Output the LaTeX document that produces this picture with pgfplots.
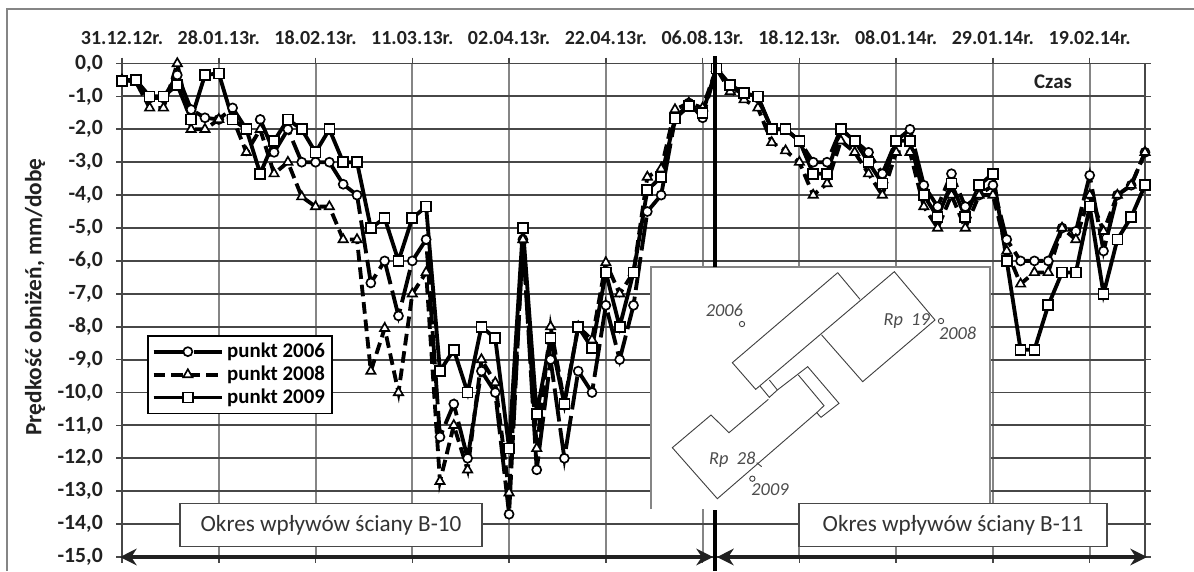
\documentclass[border=0pt]{standalone}
\usepackage{fontspec}
\setmainfont{Carlito}
\usepackage{pgfplots}
\pgfplotsset{compat=1.18}
\usetikzlibrary{arrows.meta}

\definecolor{griddark}{gray}{0.28}
\definecolor{gridmid}{gray}{0.52}
\definecolor{ink}{gray}{0.13}

% n, predkosc [mm/dobe] for each measuring point
\pgfplotstableread{
n v
0 -0.5
1 -0.5
2 -1.05
3 -1.05
4 -0.35
5 -1.4
6 -1.65
7 -1.7
8 -1.35
9 -2.0
10 -1.7
11 -2.7
12 -2.0
13 -3.0
14 -3.0
15 -3.0
16 -3.67
17 -4.0
18 -6.67
19 -6.0
20 -7.67
21 -6.0
22 -5.35
23 -11.35
24 -10.35
25 -12.0
26 -9.35
27 -10.0
28 -13.7
29 -5.35
30 -12.35
31 -9.0
32 -12.0
33 -9.35
34 -10.0
35 -7.35
36 -9.0
37 -7.35
38 -4.5
39 -4.0
40 -1.7
41 -1.2
42 -1.65
43 -0.15
44 -0.7
45 -0.95
46 -1.05
47 -2.0
48 -2.0
49 -2.35
50 -3.0
51 -3.0
52 -2.0
53 -2.35
54 -2.7
55 -3.35
56 -2.35
57 -2.0
58 -3.7
59 -4.35
60 -3.35
61 -4.35
62 -4.0
63 -3.7
64 -5.35
65 -6.0
66 -6.0
67 -6.0
68 -5.0
69 -5.1
70 -3.4
71 -5.7
72 -4.0
73 -3.7
74 -2.7
}\punktA
\pgfplotstableread{
n v
0 -0.5
1 -0.55
2 -1.35
3 -1.35
4 0.0
5 -2.0
6 -2.0
7 -1.7
8 -1.65
9 -2.7
10 -2.0
11 -3.35
12 -3.0
13 -4.05
14 -4.35
15 -4.35
16 -5.35
17 -5.35
18 -9.35
19 -8.05
20 -10.0
21 -7.0
22 -6.35
23 -12.7
24 -11.0
25 -12.35
26 -9.0
27 -9.7
28 -13.05
29 -5.35
30 -11.7
31 -8.0
32 -10.3
33 -8.0
34 -8.4
35 -6.05
36 -7.0
37 -6.35
38 -3.45
39 -3.2
40 -1.4
41 -1.2
42 -1.35
43 -0.15
44 -0.85
45 -1.1
46 -1.35
47 -2.4
48 -2.65
49 -3.0
50 -4.0
51 -3.65
52 -2.35
53 -2.7
54 -3.35
55 -4.0
56 -2.7
57 -2.7
58 -4.35
59 -5.0
60 -4.0
61 -5.0
62 -4.0
63 -4.0
64 -5.7
65 -6.7
66 -6.35
67 -6.35
68 -5.0
69 -5.35
70 -4.0
71 -5.1
72 -4.0
73 -3.7
74 -2.7
}\punktB
\pgfplotstableread{
n v
0 -0.53
1 -0.5
2 -1.0
3 -1.0
4 -0.65
5 -1.7
6 -0.35
7 -0.3
8 -1.7
9 -2.0
10 -3.35
11 -2.35
12 -1.7
13 -2.0
14 -2.7
15 -2.0
16 -3.0
17 -3.0
18 -5.0
19 -4.7
20 -6.0
21 -4.7
22 -4.35
23 -9.35
24 -8.7
25 -10.0
26 -8.0
27 -8.35
28 -11.7
29 -5.0
30 -10.65
31 -8.35
32 -10.35
33 -8.0
34 -8.65
35 -6.35
36 -8.0
37 -6.35
38 -3.85
39 -3.45
40 -1.67
41 -1.3
42 -1.5
43 -0.15
44 -0.65
45 -0.9
46 -1.0
47 -2.0
48 -2.0
49 -2.35
50 -3.35
51 -3.35
52 -2.0
53 -2.35
54 -3.0
55 -3.65
56 -2.35
57 -2.35
58 -4.0
59 -4.67
60 -3.65
61 -4.67
62 -3.7
63 -3.35
64 -6.0
65 -8.7
66 -8.7
67 -7.35
68 -6.35
69 -6.35
70 -4.35
71 -7.0
72 -5.35
73 -4.67
74 -3.7
}\punktC

\begin{document}
\begin{tikzpicture}
\useasboundingbox (0,0) rectangle (716.4pt,-342.6pt);
\draw[gridmid,line width=1pt] (4.2pt,-342.6pt) -- (4.2pt,-5.4pt) -- (716.4pt,-5.4pt);
\begin{axis}[
    at={(73.2pt,-334.2pt)},
    anchor=south west,
    scale only axis,
    width=613.8pt,
    height=296.1pt,
    xmin=0, xmax=74,
    ymin=-15, ymax=0,
    clip=false,
    axis line style={griddark,line width=1.1pt},
    xtick={0,7,14,21,28,35,42,49,56,63,70},
    xticklabels={31.12.12r.,28.01.13r.,18.02.13r.,11.03.13r.,02.04.13r.,22.04.13r.,06.08.13r.,18.12.13r.,08.01.14r.,29.01.14r.,19.02.14r.},
    xticklabel pos=upper,
    ytick={0,-1,...,-15},
    tick align=outside,
    major tick length=3.5pt,
    xtick style={griddark,line width=0.9pt},
    ytick style={griddark,line width=1pt},
    grid=major,
    x grid style={gridmid,line width=1.2pt},
    y grid style={griddark,line width=1.1pt},
    xticklabel style={font=\fontsize{12}{14}\selectfont\bfseries,text=ink,yshift=4pt},
    yticklabel style={font=\fontsize{13}{15}\selectfont\bfseries,text=ink,xshift=-4.5pt,
      /pgf/number format/.cd,fixed,fixed zerofill,precision=1,use comma,assume math mode=true},
    ylabel={Prędkość obniżeń, mm/dobę},
    every axis y label/.style={at={(axis description cs:-0.085,0.527)},rotate=90,anchor=center,
      font=\fontsize{14}{16}\selectfont\bfseries,text=ink},
    legend cell align=left,
    legend style={at={(0.0244,0.45)},anchor=north west,draw=black,line width=1pt,fill=white,
      font=\fontsize{12.5}{14}\selectfont\bfseries,row sep=-0.5pt,inner sep=2.4pt},
    legend image code/.code={\draw[mark repeat=2,mark phase=2,#1] plot coordinates {(0cm,0cm) (0.72cm,0cm) (1.44cm,0cm)};},
    every axis plot/.append style={black},
]
\addplot[line width=2.3pt,dash pattern=on 20pt off 4pt,mark=*,mark size=2.7pt,
    mark options={solid,fill=white,draw=black,line width=1pt}] table[x=n,y=v] {\punktA};
\addplot[line width=2.3pt,dash pattern=on 7pt off 3.5pt,mark=triangle*,mark size=3.2pt,
    mark options={solid,fill=white,draw=black,line width=1pt}] table[x=n,y=v] {\punktB};
\addplot[line width=2.3pt,mark=square*,mark size=3pt,
    mark options={solid,fill=white,draw=black,line width=1pt}] table[x=n,y=v] {\punktC};
\legend{punkt 2006,punkt 2008,punkt 2009}
\end{axis}

\begin{scope}[x=0.6pt,y=-0.6pt]
% inset with the building plan
\fill[white] (651,267) rectangle (990,509);
\draw[gridmid,line width=0.8pt] (651,509) -- (651,267) -- (990,267) -- (990,503);
\begin{scope}[shift={(640,260)},x=0.2pt,y=-0.2pt,line width=0.55pt,draw=black!75]
  \draw (593,38) -- (277,308) -- (347,388) -- (763,35) -- (885,180) -- (668,365) -- (545,225);
  \draw (593,38) -- (660,118);
  \draw (360,378) -- (388,412) -- (412,390) -- (388,360);
  \draw (385,418) -- (267,518) -- (213,465) -- (97,563) -- (232,716) -- (530,458) -- (543,472) -- (597,430) -- (503,320) -- (412,390);
  \draw (475,345) -- (552,437) -- (530,458);
  \draw (306,192) circle (8);
  \draw (903,183) circle (8);
  \draw (337,656) circle (8);
  \draw (350,608) -- (365,620);
  \begin{scope}[every node/.style={font=\fontsize{11}{13}\selectfont\itshape,text=black!70,inner sep=0pt}]
    \node at (253,150) {2006};
    \node at (953,220) {2008};
    \node at (390,690) {2009};
    \node at (800,183) {Rp\ \ 19};
    \node at (277,600) {Rp\ \ 28};
  \end{scope}
\end{scope}
% influence periods
\draw[black,line width=1.9pt] (715,56) -- (715,267);
\draw[black,line width=1.9pt] (715,510) -- (715,571);
\draw[ink,line width=2.9pt,-{Stealth[length=10pt,width=10pt]}] (420,557) -- (120,557);
\draw[ink,line width=2.9pt,-{Stealth[length=10pt,width=10pt]}] (420,557) -- (713,557);
\draw[ink,line width=2.9pt,-{Stealth[length=10pt,width=10pt]}] (900,557) -- (717,557);
\draw[ink,line width=2.9pt,-{Stealth[length=10pt,width=10pt]}] (900,557) -- (1147,557);
\node[draw=griddark,line width=0.9pt,fill=white,minimum width=181pt,minimum height=26pt,
    font=\fontsize{13.9}{16}\selectfont,text=black!80,inner sep=0pt] at (331,525) {Okres wpływów ściany B-10};
\node[draw=griddark,line width=0.9pt,fill=white,minimum width=185pt,minimum height=26pt,
    font=\fontsize{13.9}{16}\selectfont,text=black!80,inner sep=0pt] at (953,525) {Okres wpływów ściany B-11};
\node[font=\fontsize{12.5}{14}\selectfont\bfseries,text=ink] at (1053,82) {Czas};
\end{scope}
\end{tikzpicture}
\end{document}
